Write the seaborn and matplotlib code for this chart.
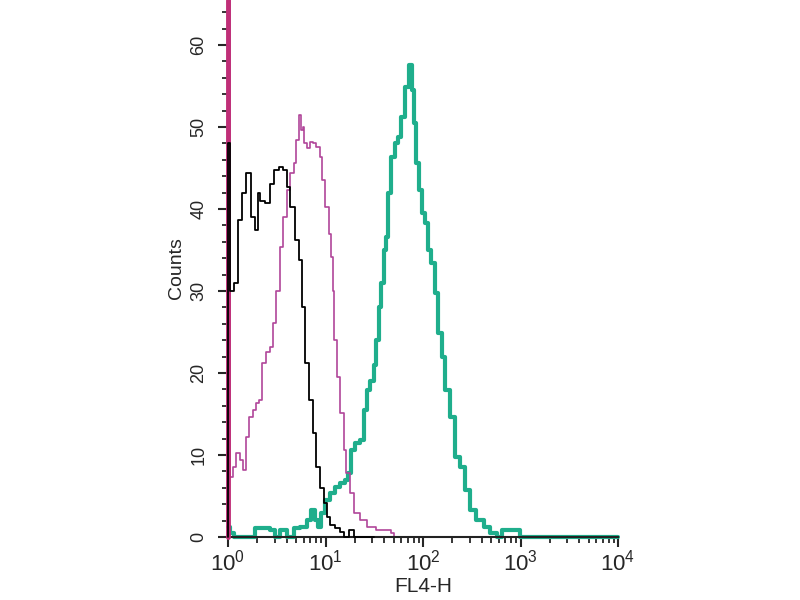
import numpy as np
import pandas as pd
import matplotlib
matplotlib.use("Agg")
import matplotlib.pyplot as plt
from matplotlib.ticker import LogLocator, MultipleLocator, FixedLocator
import seaborn as sns

black_log = [0.0, 0.0, 0.04, 0.09, 0.12, 0.17, 0.20, 0.26, 0.30, 0.31, 0.35, 0.40,
             0.45, 0.50, 0.55, 0.58, 0.62, 0.66, 0.71, 0.74, 0.77, 0.81, 0.86,
             0.89, 0.92, 0.96, 1.00, 1.03, 1.07, 1.12, 1.17, 1.20, 1.28, 1.31, 1.50]
black_cnt = [0, 48, 30, 31, 38.7, 42, 44.4, 39, 37.4, 42, 41, 40.7,
             43, 44.8, 45.1, 44.8, 42.7, 40.2, 36.2, 33.8, 28, 21.2, 16.7,
             12.7, 8.5, 6, 4.1, 2.4, 1.5, 1.1, 0.6, 0, 0.8, 0, 0]

magenta_log = [0.0, 0.0, 0.04, 0.07, 0.10, 0.14, 0.17, 0.20, 0.23, 0.28, 0.30, 0.33,
               0.36, 0.41, 0.45, 0.48, 0.51, 0.55, 0.58, 0.62, 0.66, 0.69, 0.71,
               0.74, 0.76, 0.77, 0.79, 0.82, 0.86, 0.89, 0.92, 0.96, 0.97, 1.02,
               1.05, 1.07, 1.08, 1.10, 1.13, 1.17, 1.20, 1.23, 1.27, 1.32, 1.38,
               1.46, 1.56, 1.66, 1.69, 1.72, 2.70]
magenta_cnt = [0, 70, 7.3, 8.5, 10.2, 9.4, 8.2, 12.2, 14.6, 15.5, 16.3, 16.7,
               21.2, 22.6, 23.2, 26.1, 30, 35.4, 39, 42.3, 44.4, 45.6, 48.4,
               51.5, 49.6, 50, 48, 47.4, 48.2, 48, 47.6, 46.3, 43.5, 40.2,
               37, 34.1, 30, 24, 19.5, 15.1, 10.6, 7.8, 5.4, 2.9, 2.1,
               1.2, 0.8, 0.8, 0.5, 0, 0]

teal_log = [0.0, 0.04, 0.08, 0.41, 0.46, 0.51, 0.56, 0.64, 0.71, 0.77, 0.84, 0.87,
            0.91, 0.94, 0.97, 1.02, 1.07, 1.12, 1.17, 1.22, 1.25, 1.28, 1.33,
            1.37, 1.41, 1.44, 1.48, 1.51, 1.53, 1.56, 1.58, 1.61, 1.63, 1.66,
            1.69, 1.73, 1.76, 1.79, 1.84, 1.87, 1.90, 1.92, 1.94, 1.97, 2.00,
            2.04, 2.07, 2.10, 2.14, 2.17, 2.21, 2.25, 2.30, 2.35, 2.40, 2.45,
            2.51, 2.58, 2.66, 2.72, 2.79, 2.82, 2.89, 2.96, 3.02, 4.0]
teal_cnt = [1.2, 0.5, 0, 1.1, 0.8, 0, 0.8, 0, 1.1, 1.2, 2.1, 3.3,
            2.1, 1.2, 2.9, 4.5, 5.4, 6.1, 6.6, 7, 7.8, 10.6, 11.5,
            11.8, 15.5, 17.9, 19, 21, 24, 28, 31, 35, 36.6, 42,
            46.3, 48, 48.8, 51.2, 54.9, 57.6, 54.5, 50.5, 45.6, 42.3, 39.5,
            38.3, 35, 33.4, 29.8, 24.9, 22, 17.9, 14.6, 9.8, 8.5, 5.7,
            3.3, 2.1, 1.2, 0.5, 0, 0.8, 0.8, 0.8, 0, 0]

y_major = [0, 10, 20, 30, 40, 50, 60]
x_decades = [1, 10, 100, 1000, 10000]

sns.set_style("ticks")
plt.rcParams['font.family'] = ['Liberation Sans', 'DejaVu Sans']
plt.rcParams['mathtext.fontset'] = 'custom'
plt.rcParams['mathtext.rm'] = 'Liberation Sans'
plt.rcParams['mathtext.it'] = 'Liberation Sans'
plt.rcParams['mathtext.bf'] = 'Liberation Sans'

fig = plt.figure(figsize=(8, 6), dpi=100)
ax = fig.add_axes([0.285, 0.105, 0.4875, 0.895])

curves = [
    (teal_log, teal_cnt, '#1fae8c', 3.0, 2),
    (magenta_log, magenta_cnt, '#b0469a', 1.2, 2.1),
    (black_log, black_cnt, 'black', 1.3, 4),
]
for logs, cnts, col, lw, z in curves:
    d = pd.DataFrame({'FL4-H': 10 ** np.array(logs), 'Counts': cnts})
    sns.lineplot(data=d, x='FL4-H', y='Counts', ax=ax, color=col, lw=lw, zorder=z,
                 drawstyle='steps-mid', sort=False, estimator=None, clip_on=False)

# thick magenta first channel running off the top (drawn over the spine)
ax.axvline(1.0, color='#c02f78', lw=3.5, zorder=3, clip_on=False)

ax.set_xscale('log')
ax.set_xlim(1, 10000)
ax.set_ylim(0, 65.5)
ax.xaxis.set_major_locator(FixedLocator(x_decades))
ax.xaxis.set_minor_locator(LogLocator(base=10, subs=np.arange(2, 10)))
ax.set_xticklabels([r'$10^{%d}$' % int(np.log10(v)) for v in x_decades])
ax.yaxis.set_major_locator(FixedLocator(y_major))
ax.yaxis.set_minor_locator(MultipleLocator(2))

ax.tick_params(axis='x', which='major', length=7, width=1.5, labelsize=16, pad=2)
ax.tick_params(axis='x', which='minor', length=4, width=1.3)
ax.tick_params(axis='y', which='major', length=7, width=1.5, labelsize=13, pad=8)
ax.tick_params(axis='y', which='minor', length=4, width=1.3)
for lab in ax.get_yticklabels():
    lab.set_rotation(90)
    lab.set_va('center')

sns.despine(ax=ax)
for s in ['left', 'bottom']:
    ax.spines[s].set_linewidth(1.5)
    ax.spines[s].set_color('#222222')

ax.set_xlabel('FL4-H', fontsize=15, labelpad=1)
ax.set_ylabel('Counts', fontsize=14, labelpad=4)

fig.savefig('out.png', dpi=100)
